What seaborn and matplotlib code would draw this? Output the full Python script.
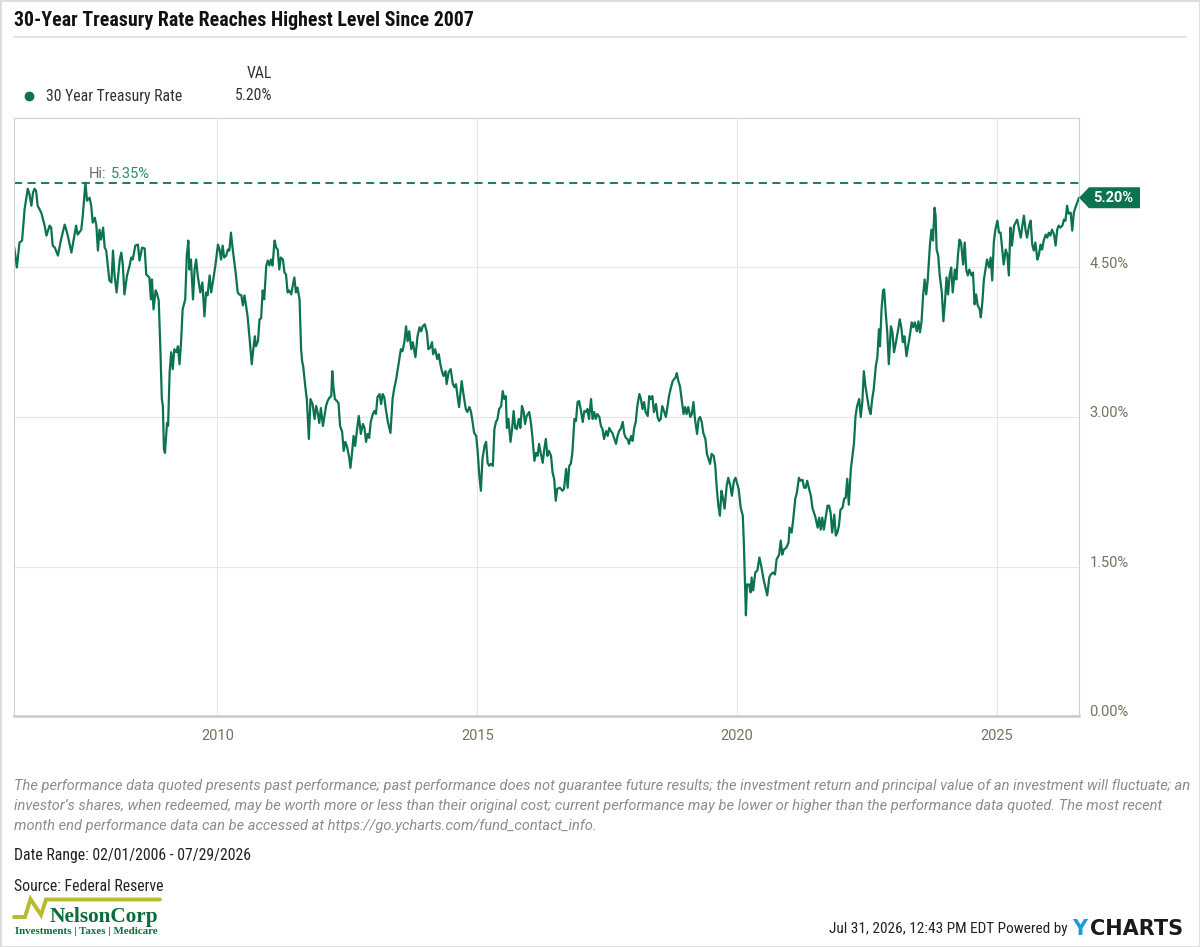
import pandas as pd
import matplotlib
matplotlib.use('Agg')
import matplotlib.pyplot as plt
import matplotlib.transforms as mtransforms
from matplotlib.patches import Polygon, Rectangle
from matplotlib.lines import Line2D
import seaborn as sns

# 30 year treasury rate (decimal years, percent)
years_2006_2012 = [
    2006.09, 2006.14, 2006.19, 2006.24, 2006.29, 2006.35, 2006.38, 2006.42, 2006.45, 2006.48,
    2006.51, 2006.54, 2006.61, 2006.67, 2006.71, 2006.77, 2006.80, 2006.83, 2006.87, 2006.93,
    2006.99, 2007.06, 2007.09, 2007.12, 2007.19, 2007.25, 2007.28, 2007.31, 2007.38, 2007.41,
    2007.46, 2007.49, 2007.54, 2007.57, 2007.60, 2007.64, 2007.67, 2007.70, 2007.73, 2007.76,
    2007.80, 2007.83, 2007.86, 2007.92, 2007.96, 2007.99, 2008.02, 2008.06, 2008.12, 2008.15,
    2008.18, 2008.21, 2008.26, 2008.31, 2008.34, 2008.37, 2008.42, 2008.47, 2008.50, 2008.55,
    2008.60, 2008.63, 2008.69, 2008.72, 2008.74, 2008.77, 2008.81, 2008.83, 2008.87, 2008.90,
    2008.93, 2008.95, 2008.97, 2008.99, 2009.03, 2009.05, 2009.08, 2009.11, 2009.14, 2009.17,
    2009.21, 2009.24, 2009.27, 2009.30, 2009.33, 2009.38, 2009.41, 2009.44, 2009.46, 2009.49,
    2009.53, 2009.56, 2009.59, 2009.62, 2009.67, 2009.71, 2009.75, 2009.78, 2009.81, 2009.85,
    2009.88, 2009.92, 2009.96, 2010.01, 2010.04, 2010.07, 2010.10, 2010.13, 2010.17, 2010.20,
    2010.23, 2010.26, 2010.29, 2010.35, 2010.39, 2010.42, 2010.46, 2010.49, 2010.52, 2010.55,
    2010.58, 2010.62, 2010.66, 2010.69, 2010.72, 2010.74, 2010.78, 2010.81, 2010.84, 2010.87,
    2010.90, 2010.94, 2010.97, 2011.00, 2011.03, 2011.06, 2011.10, 2011.13, 2011.16, 2011.19,
    2011.22, 2011.26, 2011.29, 2011.32, 2011.35, 2011.38, 2011.42, 2011.45, 2011.48, 2011.51,
    2011.54, 2011.58, 2011.61, 2011.63, 2011.65, 2011.69, 2011.72, 2011.76, 2011.79, 2011.83,
    2011.87, 2011.90, 2011.93, 2011.96, 2011.99, 2012.03, 2012.06, 2012.09, 2012.12, 2012.15,
    2012.19, 2012.21, 2012.23, 2012.26, 2012.30, 2012.33, 2012.36, 2012.40, 2012.43, 2012.46,
    2012.49, 2012.53, 2012.56, 2012.59, 2012.62, 2012.65, 2012.69, 2012.72,
]
rates_2006_2012 = [
    4.70, 4.50, 4.75, 4.77, 5.09, 5.29, 5.24, 5.12, 5.25, 5.29,
    5.27, 5.12, 5.05, 4.93, 4.82, 4.92, 4.90, 4.72, 4.70, 4.62,
    4.78, 4.93, 4.88, 4.82, 4.65, 4.83, 4.92, 4.83, 4.88, 5.03,
    5.35, 5.17, 5.20, 5.12, 4.95, 5.00, 4.92, 4.67, 4.88, 4.78,
    4.90, 4.70, 4.67, 4.37, 4.35, 4.67, 4.42, 4.25, 4.58, 4.65,
    4.52, 4.23, 4.42, 4.52, 4.60, 4.58, 4.72, 4.73, 4.57, 4.70,
    4.69, 4.43, 4.40, 4.18, 4.38, 4.08, 4.27, 4.25, 4.17, 3.71,
    3.18, 3.11, 2.68, 2.64, 2.94, 2.91, 3.45, 3.65, 3.48, 3.68,
    3.65, 3.71, 3.53, 3.75, 4.08, 4.18, 4.62, 4.77, 4.48, 4.58,
    4.18, 4.48, 4.58, 4.42, 4.25, 4.35, 4.01, 4.25, 4.22, 4.42,
    4.25, 4.38, 4.52, 4.73, 4.68, 4.58, 4.72, 4.60, 4.62, 4.68,
    4.67, 4.85, 4.70, 4.45, 4.25, 4.23, 4.22, 4.12, 4.22, 4.12,
    4.01, 3.78, 3.53, 3.68, 3.81, 3.71, 3.76, 3.98, 3.99, 4.27,
    4.18, 4.52, 4.57, 4.52, 4.58, 4.52, 4.77, 4.70, 4.68, 4.48,
    4.60, 4.58, 4.45, 4.43, 4.25, 4.27, 4.23, 4.32, 4.40, 4.25,
    4.30, 4.18, 3.68, 3.56, 3.51, 3.31, 3.18, 2.78, 3.18, 3.13,
    2.98, 3.11, 3.04, 2.94, 3.09, 2.91, 3.01, 3.11, 3.16, 3.19,
    3.21, 3.46, 3.31, 3.18, 3.16, 3.14, 2.91, 2.85, 2.66, 2.75,
    2.71, 2.61, 2.49, 2.64, 2.81, 2.71, 2.89, 3.01,
]

years_2012_2019 = [
    2012.76, 2012.80, 2012.83, 2012.86, 2012.89, 2012.92, 2012.95, 2012.99, 2013.02, 2013.05,
    2013.08, 2013.12, 2013.15, 2013.18, 2013.21, 2013.24, 2013.28, 2013.33, 2013.37, 2013.40,
    2013.44, 2013.48, 2013.50, 2013.53, 2013.56, 2013.60, 2013.63, 2013.66, 2013.69, 2013.73,
    2013.76, 2013.81, 2013.85, 2013.89, 2013.92, 2013.95, 2013.99, 2014.03, 2014.06, 2014.10,
    2014.13, 2014.15, 2014.19, 2014.23, 2014.26, 2014.29, 2014.32, 2014.35, 2014.39, 2014.41,
    2014.45, 2014.49, 2014.53, 2014.56, 2014.59, 2014.62, 2014.65, 2014.70, 2014.74, 2014.78,
    2014.81, 2014.85, 2014.88, 2014.91, 2014.94, 2014.98, 2015.01, 2015.04, 2015.07, 2015.10,
    2015.14, 2015.17, 2015.20, 2015.23, 2015.26, 2015.30, 2015.33, 2015.36, 2015.39, 2015.42,
    2015.46, 2015.49, 2015.52, 2015.55, 2015.57, 2015.60, 2015.64, 2015.67, 2015.70, 2015.73,
    2015.76, 2015.80, 2015.83, 2015.86, 2015.89, 2015.92, 2015.95, 2016.00, 2016.03, 2016.06,
    2016.10, 2016.13, 2016.16, 2016.19, 2016.22, 2016.26, 2016.29, 2016.32, 2016.35, 2016.38,
    2016.42, 2016.45, 2016.48, 2016.51, 2016.54, 2016.59, 2016.64, 2016.67, 2016.71, 2016.74,
    2016.77, 2016.80, 2016.83, 2016.87, 2016.90, 2016.93, 2016.96, 2016.99, 2017.03, 2017.06,
    2017.09, 2017.12, 2017.15, 2017.19, 2017.22, 2017.25, 2017.28, 2017.31, 2017.35, 2017.38,
    2017.41, 2017.44, 2017.48, 2017.51, 2017.54, 2017.57, 2017.60, 2017.64, 2017.67, 2017.70,
    2017.73, 2017.76, 2017.80, 2017.83, 2017.86, 2017.89, 2017.92, 2017.96, 2017.99, 2018.02,
    2018.05, 2018.08, 2018.12, 2018.15, 2018.18, 2018.21, 2018.24, 2018.28, 2018.31, 2018.34,
    2018.37, 2018.40, 2018.44, 2018.47, 2018.50, 2018.53, 2018.56, 2018.60, 2018.63, 2018.66,
    2018.69, 2018.72, 2018.76, 2018.79, 2018.82, 2018.84, 2018.87, 2018.90, 2018.94, 2018.97,
    2019.00, 2019.03, 2019.06, 2019.10, 2019.13, 2019.16, 2019.19, 2019.23, 2019.26, 2019.29,
    2019.32, 2019.35, 2019.39, 2019.42, 2019.45, 2019.48, 2019.51, 2019.55, 2019.58, 2019.61,
    2019.64, 2019.67, 2019.70, 2019.73, 2019.76, 2019.80, 2019.83, 2019.87, 2019.90, 2019.94,
    2019.97,
]
rates_2012_2019 = [
    2.83, 2.93, 2.89, 2.75, 2.83, 2.79, 2.95, 3.03, 3.06, 3.03,
    3.20, 3.23, 3.13, 3.23, 3.20, 3.08, 2.95, 2.84, 3.18, 3.28,
    3.38, 3.51, 3.58, 3.68, 3.66, 3.76, 3.91, 3.76, 3.86, 3.68,
    3.75, 3.60, 3.81, 3.90, 3.86, 3.91, 3.93, 3.85, 3.68, 3.70,
    3.75, 3.63, 3.68, 3.58, 3.63, 3.53, 3.46, 3.41, 3.46, 3.33,
    3.45, 3.48, 3.33, 3.30, 3.33, 3.21, 3.10, 3.36, 3.21, 3.08,
    3.05, 3.10, 3.05, 2.95, 2.84, 2.81, 2.64, 2.41, 2.26, 2.58,
    2.71, 2.75, 2.54, 2.51, 2.53, 2.51, 2.88, 2.95, 2.98, 3.08,
    3.11, 3.26, 3.18, 3.21, 2.89, 2.98, 2.75, 2.88, 3.06, 2.89,
    2.88, 2.98, 2.89, 3.11, 3.06, 2.93, 3.01, 3.05, 2.95, 2.81,
    2.56, 2.64, 2.61, 2.73, 2.64, 2.54, 2.68, 2.78, 2.61, 2.66,
    2.61, 2.44, 2.38, 2.16, 2.28, 2.29, 2.26, 2.28, 2.48, 2.29,
    2.51, 2.53, 2.64, 2.98, 2.96, 3.15, 3.16, 3.08, 2.95, 3.06,
    3.05, 3.08, 2.98, 3.18, 2.98, 3.05, 2.98, 3.03, 3.00, 2.91,
    2.88, 2.78, 2.86, 2.81, 2.89, 2.86, 2.84, 2.78, 2.73, 2.81,
    2.86, 2.88, 2.95, 2.83, 2.79, 2.78, 2.73, 2.81, 2.76, 2.89,
    2.95, 3.11, 3.23, 3.18, 3.08, 3.15, 3.05, 3.01, 3.21, 3.18,
    3.21, 3.05, 3.13, 3.00, 2.96, 2.98, 3.11, 3.05, 3.00, 3.10,
    3.21, 3.28, 3.36, 3.38, 3.40, 3.44, 3.36, 3.31, 3.15, 3.03,
    3.10, 3.03, 3.10, 3.00, 3.03, 3.15, 2.98, 2.83, 2.98, 3.00,
    2.95, 2.84, 2.78, 2.63, 2.58, 2.53, 2.63, 2.61, 2.51, 2.28,
    2.11, 2.01, 2.26, 2.18, 2.08, 2.31, 2.39, 2.31, 2.21, 2.36,
    2.39,
]

years_2020_2026 = [
    2020.03, 2020.07, 2020.11, 2020.13, 2020.15, 2020.17, 2020.19, 2020.23, 2020.26, 2020.28,
    2020.31, 2020.35, 2020.39, 2020.43, 2020.47, 2020.51, 2020.54, 2020.58, 2020.62, 2020.65,
    2020.69, 2020.73, 2020.76, 2020.81, 2020.84, 2020.87, 2020.90, 2020.95, 2020.99, 2021.01,
    2021.05, 2021.08, 2021.12, 2021.15, 2021.19, 2021.22, 2021.26, 2021.29, 2021.32, 2021.35,
    2021.38, 2021.42, 2021.45, 2021.48, 2021.51, 2021.55, 2021.58, 2021.61, 2021.64, 2021.67,
    2021.71, 2021.74, 2021.77, 2021.80, 2021.83, 2021.87, 2021.90, 2021.93, 2021.96, 2021.99,
    2022.03, 2022.06, 2022.09, 2022.12, 2022.15, 2022.19, 2022.22, 2022.25, 2022.28, 2022.31,
    2022.35, 2022.38, 2022.41, 2022.44, 2022.47, 2022.51, 2022.54, 2022.57, 2022.60, 2022.63,
    2022.67, 2022.70, 2022.73, 2022.75, 2022.78, 2022.81, 2022.83, 2022.86, 2022.89, 2022.92,
    2022.96, 2022.99, 2023.02, 2023.05, 2023.10, 2023.13, 2023.16, 2023.19, 2023.22, 2023.26,
    2023.29, 2023.32, 2023.36, 2023.39, 2023.42, 2023.46, 2023.49, 2023.52, 2023.55, 2023.58,
    2023.61, 2023.64, 2023.67, 2023.71, 2023.74, 2023.77, 2023.80, 2023.82, 2023.84, 2023.87,
    2023.90, 2023.94, 2023.97, 2024.00, 2024.03, 2024.06, 2024.09, 2024.12, 2024.15, 2024.19,
    2024.22, 2024.25, 2024.28, 2024.31, 2024.35, 2024.38, 2024.41, 2024.44, 2024.47, 2024.51,
    2024.54, 2024.57, 2024.60, 2024.63, 2024.67, 2024.69, 2024.72, 2024.75, 2024.78, 2024.81,
    2024.85, 2024.88, 2024.91, 2024.94, 2024.97, 2025.01, 2025.04, 2025.07, 2025.10, 2025.13,
    2025.17, 2025.20, 2025.23, 2025.26, 2025.29, 2025.33, 2025.36, 2025.39, 2025.42, 2025.46,
    2025.49, 2025.52, 2025.55, 2025.58, 2025.62, 2025.65, 2025.68, 2025.71, 2025.74, 2025.78,
    2025.81, 2025.84, 2025.87, 2025.90, 2025.94, 2025.97, 2026.00, 2026.03, 2026.06, 2026.10,
    2026.13, 2026.16, 2026.19, 2026.22, 2026.26, 2026.29, 2026.32, 2026.35, 2026.38, 2026.42,
    2026.45, 2026.48, 2026.51, 2026.58,
]
rates_2020_2026 = [
    2.28, 2.09, 2.01, 1.74, 1.37, 1.01, 1.32, 1.32, 1.24, 1.39,
    1.26, 1.44, 1.46, 1.59, 1.49, 1.37, 1.30, 1.21, 1.39, 1.42,
    1.44, 1.42, 1.57, 1.62, 1.76, 1.62, 1.67, 1.69, 1.74, 1.89,
    1.84, 1.97, 2.18, 2.24, 2.39, 2.36, 2.37, 2.29, 2.29, 2.36,
    2.29, 2.21, 2.09, 2.04, 1.99, 1.89, 1.99, 1.87, 1.99, 1.87,
    2.01, 2.11, 2.11, 2.04, 1.84, 2.02, 1.81, 1.84, 1.91, 2.07,
    2.09, 2.18, 2.19, 2.38, 2.12, 2.48, 2.61, 2.74, 3.01, 3.11,
    3.18, 3.00, 3.15, 3.46, 3.31, 3.18, 3.08, 3.03, 3.18, 3.28,
    3.51, 3.60, 3.88, 3.71, 4.08, 4.27, 4.28, 4.05, 3.85, 3.53,
    3.91, 3.85, 3.65, 3.73, 3.88, 3.98, 3.90, 3.75, 3.81, 3.61,
    3.71, 3.80, 3.95, 3.90, 3.95, 3.86, 3.96, 3.85, 3.96, 4.22,
    4.38, 4.23, 4.38, 4.72, 4.88, 4.77, 5.10, 5.02, 4.68, 4.62,
    4.42, 4.25, 3.96, 4.15, 4.40, 4.23, 4.42, 4.50, 4.25, 4.48,
    4.38, 4.62, 4.78, 4.75, 4.53, 4.75, 4.48, 4.42, 4.48, 4.42,
    4.45, 4.13, 4.23, 4.12, 4.08, 4.00, 4.15, 4.38, 4.48, 4.58,
    4.50, 4.60, 4.37, 4.75, 4.88, 4.97, 4.85, 4.85, 4.70, 4.53,
    4.68, 4.63, 4.42, 4.90, 4.72, 4.92, 4.95, 4.98, 4.90, 4.80,
    4.92, 5.02, 4.88, 4.80, 4.92, 4.97, 4.73, 4.67, 4.75, 4.58,
    4.63, 4.73, 4.68, 4.77, 4.83, 4.80, 4.85, 4.82, 4.88, 4.83,
    4.72, 4.88, 4.92, 4.90, 4.92, 4.98, 4.97, 5.12, 5.04, 5.05,
    4.87, 5.05, 5.10, 5.20,
]

tick_years = [2010, 2015, 2020, 2025]
y_ticks = [0.0, 1.5, 3.0, 4.5]

title = "30-Year Treasury Rate Reaches Highest Level Since 2007"
series_name = "30 Year Treasury Rate"
disclaimer = [
    "The performance data quoted presents past performance; past performance does not guarantee future results; "
    "the investment return and principal value of an investment will fluctuate; an",
    "investor\u2019s shares, when redeemed, may be worth more or less than their original cost; current performance "
    "may be lower or higher than the performance data quoted. The most recent",
    "month end performance data can be accessed at https://go.ycharts.com/fund_contact_info.",
]
date_range = "Date Range: 02/01/2006 - 07/29/2026"
source = "Source: Federal Reserve"
stamp = "Jul 31, 2026, 12:43 PM EDT Powered by"

df = pd.DataFrame({
    'year': years_2006_2012 + years_2012_2019 + years_2020_2026,
    'rate': rates_2006_2012 + rates_2012_2019 + rates_2020_2026,
})

GREEN = '#0b7350'
TICK = '#77715f'
DARK = '#222222'
COND = ['Roboto Condensed', 'Roboto']

sns.set_style('white')
plt.rcParams['font.family'] = ['Roboto', 'DejaVu Sans']

W, H = 1200, 947
fig = plt.figure(figsize=(W / 100, H / 100), dpi=100)
fig.patch.set_facecolor('white')


def fx(px):
    return px / W


def fy(py):
    return 1 - py / H


ax = fig.add_axes([fx(14), fy(716), fx(1079) - fx(14), fy(118) - fy(716)])
sns.lineplot(data=df, x='year', y='rate', ax=ax, color=GREEN, linewidth=1.6, estimator=None)

ax.set_xlim(2006.085, df['year'].iloc[-1])
ax.set_ylim(0, 6)
ax.set_xticks(tick_years)
ax.set_xticklabels([str(y) for y in tick_years])
ax.set_yticks(y_ticks)
ax.set_yticklabels([f'{v:.2f}%' for v in y_ticks])
ax.yaxis.tick_right()
ax.tick_params(axis='both', length=0, colors=TICK, labelsize=10.5)
ax.tick_params(axis='x', pad=9)
ax.tick_params(axis='y', pad=7.5)
for lab in ax.get_yticklabels():
    lab.set_verticalalignment('baseline')
ax.set_xlabel('')
ax.set_ylabel('')
ax.grid(True, color='#e6e6e6', linewidth=0.8)
for side in ['left', 'top', 'right']:
    ax.spines[side].set_color('#d0d0d0')
    ax.spines[side].set_linewidth(0.8)
ax.spines['bottom'].set_color('#cacaca')
ax.spines['bottom'].set_linewidth(1.8)

# high water mark
hi_row = df.loc[df['rate'].idxmax()]
ax.axhline(hi_row['rate'], color=GREEN, linewidth=1.3, linestyle=(0, (4.5, 3)))
t_hi = ax.annotate('Hi:', xy=(hi_row['year'], hi_row['rate']), xytext=(2.2, 3.8),
                   textcoords='offset points', ha='left', va='baseline',
                   color='#6e6a5e', fontsize=10.5)
ax.annotate(f"{hi_row['rate']:.2f}%", xy=(1, 0), xycoords=t_hi, xytext=(3.5, 0),
            textcoords='offset points', ha='left', va='bottom',
            color='#2f8c6c', fontsize=10.5)

# last value tag
last_year, last_rate = df['year'].iloc[-1], df['rate'].iloc[-1]
tx, ty = ax.transData.transform((last_year, last_rate))
tag = Polygon([(tx, ty), (tx + 10, ty + 10.5), (tx + 61, ty + 10.5),
               (tx + 61, ty - 10.5), (tx + 10, ty - 10.5)], closed=True,
              facecolor=GREEN, edgecolor='none', transform=mtransforms.IdentityTransform())
fig.add_artist(tag)
fig.text(tx + 34, ty, f'{last_rate:.2f}%', transform=mtransforms.IdentityTransform(),
         ha='center', va='center', color='white', fontsize=10.5, fontweight='bold')

# title and rule
fig.text(fx(14), fy(21), title, ha='left', va='center', fontsize=14.3, fontweight='bold',
         color='#111111', family=COND)
fig.add_artist(Line2D([fx(14), fx(1186)], [fy(37), fy(37)], color='#e2e2e2', linewidth=1.5))

# legend block
fig.text(fx(272), fy(73), 'VAL', ha='right', va='center', fontsize=11.3, color='#333333', family=COND)
fig.add_artist(Line2D([fx(29)], [fy(96)], marker='o', markersize=6, color=GREEN, linestyle='none'))
fig.text(fx(46), fy(96), series_name, ha='left', va='center', fontsize=11.3, color='#333333', family=COND)
fig.text(fx(272), fy(96), f'{last_rate:.2f}%', ha='right', va='center', fontsize=11.3,
         color='#333333', family=COND)

# footer
for i, line in enumerate(disclaimer):
    fig.text(fx(14), fy(786 + 20 * i), line, ha='left', va='center', fontsize=10.55,
             style='italic', color='#8c8c8c')
fig.text(fx(14), fy(855), date_range, ha='left', va='center', fontsize=11.3, color=DARK, family=COND)
fig.text(fx(14), fy(886), source, ha='left', va='center', fontsize=11.3, color=DARK, family=COND)

# NelsonCorp logo
fig.add_artist(Line2D([fx(14), fx(25), fx(30.5), fx(41), fx(46), fx(160)],
                      [fy(917), fy(917), fy(899), fy(915), fy(899.5), fy(899.5)],
                      color='#b8bb2d', linewidth=2.8, solid_joinstyle='miter'))
fig.text(fx(50), fy(922), 'NelsonCorp', ha='left', va='baseline', fontsize=15.3,
         fontweight='bold', color='#0b6b3b', family=['Liberation Serif', 'DejaVu Serif'])
fig.text(fx(15), fy(934), 'Investments | Taxes | Medicare', ha='left', va='baseline',
         fontsize=7.8, fontweight='bold', color='#0b6b3b', family=['Liberation Serif', 'DejaVu Serif'])

# timestamp and ycharts mark
fig.text(fx(1068), fy(929), stamp, ha='right', va='center', fontsize=11, color=DARK, family=COND)
fig.text(fx(1072), fy(929), 'Y', ha='left', va='center', fontsize=15, fontweight='bold',
         color='#1e9bd7', family='DejaVu Sans')
fig.text(fx(1090), fy(929), 'CHARTS', ha='left', va='center', fontsize=15, fontweight='bold',
         color='#1a1a1a', family='DejaVu Sans')

fig.add_artist(Rectangle((0, 0), 1, 1, transform=fig.transFigure, fill=False,
                         edgecolor='#dcdcdc', linewidth=2))

fig.savefig('out.png', dpi=100)
